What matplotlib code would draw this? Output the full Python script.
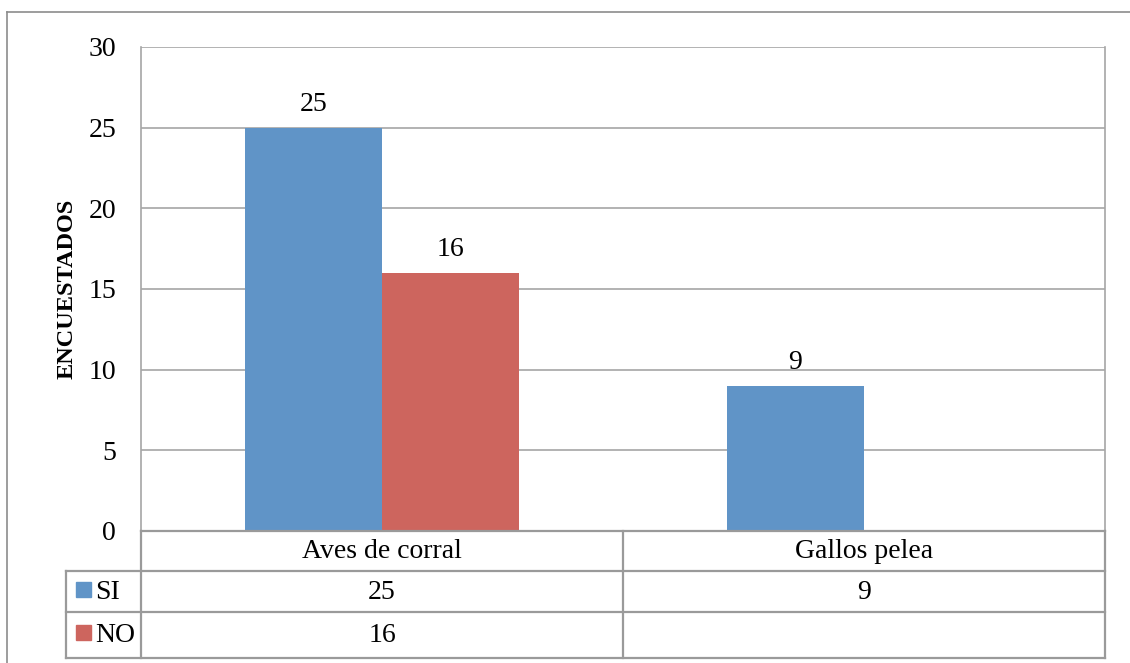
import matplotlib
matplotlib.use("Agg")
import matplotlib.pyplot as plt
from matplotlib.lines import Line2D
from matplotlib.patches import Rectangle
import numpy as np

categories = ["Aves de corral", "Gallos pelea"]
series_names = ["SI", "NO"]
si_values = [25, 9]
no_values = [16, None]
yticks = [0, 5, 10, 15, 20, 25, 30]
ylabel = "ENCUESTADOS"

colors = {"SI": "#6094C7", "NO": "#CD655E"}
grid_c = "#A6A6A6"
FONT = ["Liberation Serif", "DejaVu Serif"]
plt.rcParams["font.family"] = FONT
FS = 20

W, H = 1130, 663
fig = plt.figure(figsize=(W / 100, H / 100), dpi=100)

def fx(px):
    return px / W

def fy(py):
    return 1 - py / H

# outer chart border
fig.add_artist(Line2D([fx(7), fx(7)], [fy(12), fy(H + 5)], color="#8C8C8C", lw=1.2))
fig.add_artist(Line2D([fx(7), fx(W + 5)], [fy(12), fy(12)], color="#8C8C8C", lw=1.2))

L, R, T, B = 141, 1105, 47, 531
ax = fig.add_axes([fx(L), fy(B), fx(R - L), (B - T) / H])

x = np.arange(len(categories))
bw = 0.284
series = {"SI": si_values, "NO": no_values}
for i, name in enumerate(series_names):
    vals = np.array([np.nan if v is None else v for v in series[name]], dtype=float)
    offs = (i - 0.5) * bw
    ax.bar(x + offs, vals, width=bw, color=colors[name], zorder=3)
    for xi, v in zip(x, vals):
        if not np.isnan(v):
            ax.annotate(f"{int(v)}", (xi + offs, v), xytext=(0, 8), textcoords="offset points",
                        ha="center", va="bottom", fontsize=FS)

ax.set_xlim(-0.5, len(categories) - 0.5)
ax.set_ylim(0, 30)
ax.set_yticks(yticks)
ax.set_yticklabels([str(t) for t in yticks], fontsize=FS)
ax.tick_params(axis="y", length=0, pad=18)
ax.set_xticks([])
ax.yaxis.grid(True, color=grid_c, lw=1.2, zorder=0)
for s in ["top", "bottom"]:
    ax.spines[s].set_visible(False)
ax.spines["left"].set_color(grid_c)
ax.spines["left"].set_linewidth(1.2)
ax.spines["right"].set_color(grid_c)
ax.spines["right"].set_linewidth(1.2)
ax.set_ylabel(ylabel, fontsize=17.5, fontweight="bold", labelpad=8)

# data table
rows_y = [531, 571, 612, 658]
col_x = [L, 623, R]
lab_x = 66
tc = "#9A9A9A"
def hline(y, x0, x1):
    fig.add_artist(Line2D([fx(x0), fx(x1)], [fy(y), fy(y)], color=tc, lw=1.6))
def vline(x0, y0, y1):
    fig.add_artist(Line2D([fx(x0), fx(x0)], [fy(y0), fy(y1)], color=tc, lw=1.6))

hline(rows_y[0], L, R)
for yy in rows_y[1:]:
    hline(yy, lab_x, R)
for cx in col_x:
    vline(cx, rows_y[0], rows_y[-1])
vline(lab_x, rows_y[1], rows_y[-1])

for j, cat in enumerate(categories):
    cxm = (col_x[j] + col_x[j + 1]) / 2
    fig.text(fx(cxm), fy((rows_y[0] + rows_y[1]) / 2 + 1), cat, ha="center", va="center", fontsize=FS)
for i, name in enumerate(series_names):
    ym = (rows_y[i + 1] + rows_y[i + 2]) / 2
    fig.add_artist(Rectangle((fx(76), fy(ym + 5)), fx(15), 15 / H, color=colors[name]))
    fig.text(fx(95), fy(ym + 1), name, ha="left", va="center", fontsize=FS)
    for j, v in enumerate(series[name]):
        if v is not None:
            cxm = (col_x[j] + col_x[j + 1]) / 2
            fig.text(fx(cxm), fy(ym + 1), str(v), ha="center", va="center", fontsize=FS)

fig.savefig("out.png", dpi=100)
